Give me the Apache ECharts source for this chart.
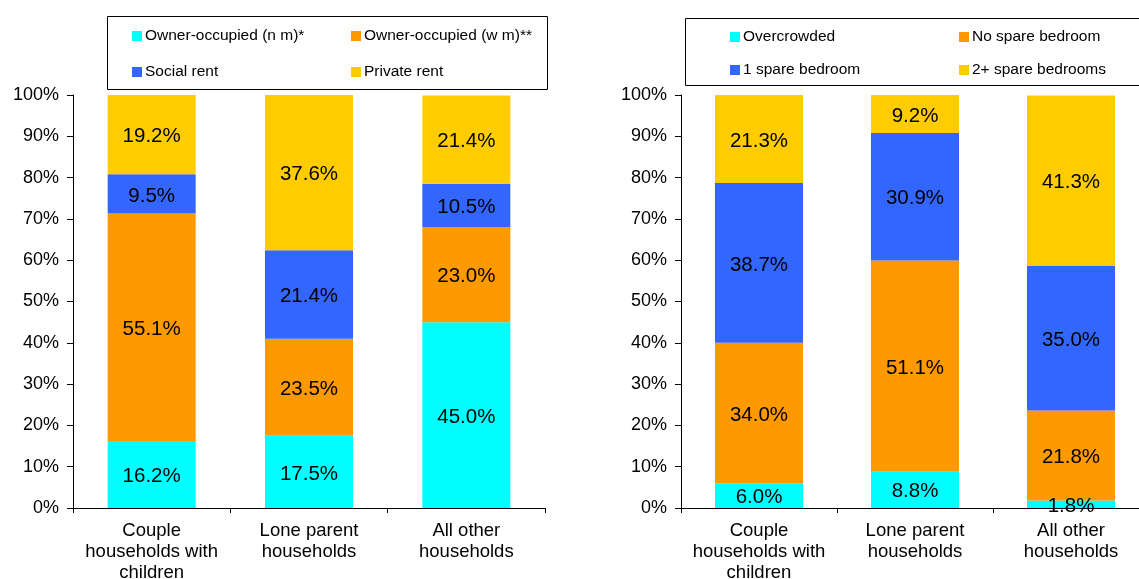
<!DOCTYPE html>
<html><head><meta charset="utf-8">
<script src="https://cdn.jsdelivr.net/npm/echarts@6/dist/echarts.min.js"></script>
<style>html,body{margin:0;padding:0;background:#fff}#c{width:1139px;height:579px}</style>
</head><body><div id="c"></div>
<script>
var categories = ['Couple\nhouseholds with\nchildren', 'Lone parent\nhouseholds', 'All other\nhouseholds'];
var yTicks = [0,10,20,30,40,50,60,70,80,90,100];

var tenureNames = ['Owner-occupied (n m)*', 'Owner-occupied (w m)**', 'Social rent', 'Private rent'];
var ownerNoMortgage = [16.2, 17.5, 45.0];
var ownerWithMortgage = [55.1, 23.5, 23.0];
var socialRent = [9.5, 21.4, 10.5];
var privateRent = [19.2, 37.6, 21.4];

var roomNames = ['Overcrowded', 'No spare bedroom', '1 spare bedroom', '2+ spare bedrooms'];
var overcrowded = [6.0, 8.8, 1.8];
var noSpare = [34.0, 51.1, 21.8];
var oneSpare = [38.7, 30.9, 35.0];
var twoPlusSpare = [21.3, 9.2, 41.3];

var colors = ['#00FFFF', '#FF9900', '#3366FF', '#FFCC00'];
var font = 'Liberation Sans, Arial, sans-serif';

function xAxis(gi){
  return {type:'category', gridIndex:gi, data:categories,
    axisLine:{lineStyle:{color:'#000',width:1}},
    axisTick:{show:true,length:5,lineStyle:{color:'#000'}},
    axisLabel:{color:'#000',fontSize:18.5,fontFamily:font,lineHeight:21,margin:12,interval:0}};
}
function yAxis(gi){
  return {type:'value', gridIndex:gi, min:0, max:100, interval:10,
    axisLine:{show:true,lineStyle:{color:'#000',width:1}},
    axisTick:{show:true,length:6,lineStyle:{color:'#000'}},
    splitLine:{show:false},
    axisLabel:{color:'#000',fontSize:18,fontFamily:font,margin:14,formatter:'{value}%'}};
}
function bar(name, data, ci, gi){
  return {name:name, type:'bar', stack:'s'+gi, xAxisIndex:gi, yAxisIndex:gi, data:data, barWidth:88,
    itemStyle:{color:colors[ci]},
    label:{show:true, position:'inside', offset:[0,2], color:'#000', fontSize:20.5, fontFamily:font,
      formatter:function(p){return p.value.toFixed(1)+'%';}}};
}
function legendItem(name, x, y){
  return {data:[name], left:x, top:y, icon:'rect', itemWidth:10, itemHeight:10, itemGap:0,
    textStyle:{color:'#000',fontSize:15.5,fontFamily:font,padding:[0,0,0,-2]}, selectedMode:false, padding:0};
}
var chart = echarts.init(document.getElementById('c'), null, {renderer:'canvas'});
chart.setOption({
  animation:false,
  grid:[{left:73,right:594,top:95,bottom:71,outerBoundsMode:'none',containLabel:false},
        {left:681,right:-10,top:95,bottom:71,outerBoundsMode:'none',containLabel:false}],
  xAxis:[xAxis(0),xAxis(1)],
  yAxis:[yAxis(0),yAxis(1)],
  legend:[
    legendItem(tenureNames[0],132,28), legendItem(tenureNames[1],351,28),
    legendItem(tenureNames[2],132,64), legendItem(tenureNames[3],351,64),
    legendItem(roomNames[0],730,29), legendItem(roomNames[1],959,29),
    legendItem(roomNames[2],730,62), legendItem(roomNames[3],959,62)
  ],
  graphic:[
    {type:'rect',shape:{x:107.5,y:16.5,width:440,height:73},style:{fill:'none',stroke:'#000',lineWidth:1}},
    {type:'rect',shape:{x:685.5,y:18.5,width:460,height:67},style:{fill:'none',stroke:'#000',lineWidth:1}}
  ],
  series:[
    bar(tenureNames[0],ownerNoMortgage,0,0),
    bar(tenureNames[1],ownerWithMortgage,1,0),
    bar(tenureNames[2],socialRent,2,0),
    bar(tenureNames[3],privateRent,3,0),
    bar(roomNames[0],overcrowded,0,1),
    bar(roomNames[1],noSpare,1,1),
    bar(roomNames[2],oneSpare,2,1),
    bar(roomNames[3],twoPlusSpare,3,1)
  ]
});
</script></body></html>
